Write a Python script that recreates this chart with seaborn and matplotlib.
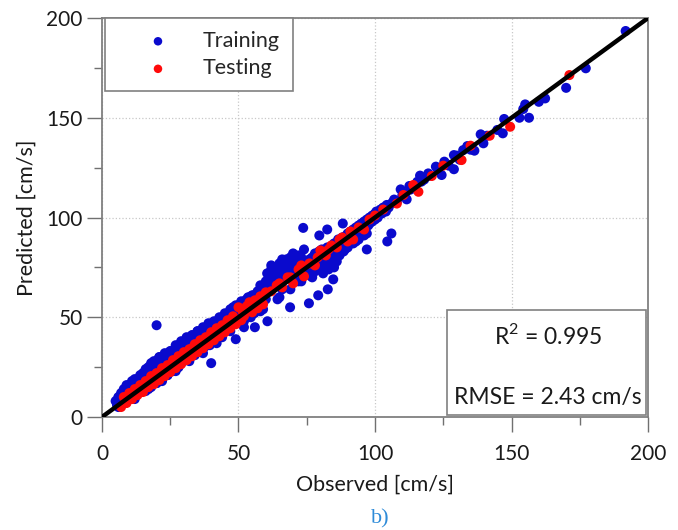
import matplotlib
matplotlib.use("Agg")
import matplotlib.pyplot as plt
import seaborn as sns
import pandas as pd
from matplotlib.patches import Rectangle
from matplotlib.ticker import MultipleLocator

# ---------------- data ----------------
train_obs = [
    # 5-15
    5, 5.5, 6, 6.5, 7, 7, 7.5, 8, 8, 8.5,
    9, 9, 9.5, 10, 10, 10.5, 11, 11, 11.5, 12,
    12, 12.5, 13, 13, 13.5, 14, 14, 14.5, 15, 15,
    6, 8, 10, 12, 14, 9, 11, 13, 7, 15.5,
    # 15-30
    16, 16, 16.5, 17, 17, 17.5, 18, 18, 18.5, 19,
    19, 19.5, 20, 20, 20.5, 21, 21, 21.5, 22, 22,
    22.5, 23, 23, 23.5, 24, 24, 24.5, 25, 25, 25.5,
    26, 26, 26.5, 27, 27, 27.5, 28, 28, 28.5, 29,
    29, 29.5, 30, 30, 18, 20, 22, 24, 26, 28,
    # 30-45
    30.5, 31, 31, 31.5, 32, 32, 32.5, 33, 33, 33.5,
    34, 34, 34.5, 35, 35, 35.5, 36, 36, 36.5, 37,
    37, 37.5, 38, 38, 38.5, 39, 39, 39.5, 40, 40,
    40.5, 41, 41, 41.5, 42, 42, 42.5, 43, 43, 43.5,
    44, 44, 44.5, 45, 45,
    # 45-60
    45.5, 46, 46, 46.5, 47, 47, 47.5, 48, 48, 48.5,
    49, 49, 49.5, 50, 50, 50.5, 51, 51, 51.5, 52,
    52, 52.5, 53, 53, 53.5, 54, 54, 54.5, 55, 55,
    55.5, 56, 56, 56.5, 57, 57, 57.5, 58, 58, 58.5,
    59, 59, 59.5, 60, 60, 60.6, 49, 52, 55.8, 58,
    # 60-75
    60.5, 61, 61, 61.5, 62, 62, 62.5, 63, 63, 63.5,
    64, 64, 64.5, 65, 65, 65.5, 66, 66, 66.5, 67,
    67, 67.5, 68, 68, 68.5, 69, 69, 69.5, 70, 70,
    70.5, 71, 71, 71.5, 72, 72, 72.5, 73, 73, 73.5,
    74, 74, 74.5, 75, 75, 64.3, 68.9, 61, 66, 70,
    # 75-90
    75.5, 76, 76, 76.5, 77, 77, 77.5, 78, 78, 78.5,
    79, 79, 79.5, 80, 80, 80.5, 81, 81, 81.5, 82,
    82, 82.5, 83, 83, 83.5, 84, 84, 84.5, 85, 85,
    85.5, 86, 86, 86.5, 87, 87, 87.5, 88, 88, 88.5,
    89, 89, 89.5, 90, 90, 79.6, 82.5, 88.2, 75.8, 79.2,
    82.7, 84.7, 83, 85, 81,
    # 90-100
    90.5, 91, 91, 91.5, 92, 92, 92.5, 93, 93, 93.5,
    94, 94, 94.5, 95, 95, 95.5, 96, 96, 96.5, 97,
    97, 97.5, 98, 98, 98.5, 99, 99, 99.5, 100, 100,
    97, 104.5, 106, 91, 95,
    # 100-200
    100.5, 101, 102, 102.5, 103, 104, 104.3, 105, 106, 106.7,
    107, 108, 109.4, 110, 111, 111.6, 112.6, 113, 115.5, 116.5,
    117, 118, 119.5, 120, 122.3, 123, 124.4, 125.4, 126, 128.9,
    128.9, 130, 132.3, 133.8, 135, 136.4, 138.7, 139.7, 141, 144.8,
    146.8, 147.3, 152.9, 154.3, 155, 156.4, 160, 162.3, 170, 177.2,
    191.8, 127, 131,
    # wider band
    14, 16, 18, 19, 21, 23, 25, 27, 29, 31,
    33, 35, 37, 39, 41, 43, 45, 47, 49, 51,
    53, 55, 57, 59, 17, 22, 27, 32, 37, 42,
    47, 52, 62, 66, 70, 74, 78, 82, 86, 90,
    94, 65, 69, 73, 77, 81, 85, 89, 93, 97,
    10, 12, 8, 6, 24, 34, 44, 54, 63, 67,
    15, 17, 19, 21, 23, 25, 27, 29, 31, 33,
    35, 37, 39, 41, 43, 46, 48, 50, 53, 56,
    12, 16, 20, 24, 28, 32, 36, 40, 58, 60,
    62, 64, 66, 68, 70, 72, 76, 80, 84, 88,
    92, 96,
    # outliers
    20, 73.7,
]
train_pred = [
    # 5-15
    8, 6, 10, 7, 9, 12, 8, 11, 14, 9,
    13, 10, 15, 12, 16, 11, 14, 18, 13, 15,
    19, 14, 17, 12, 18, 16, 20, 15, 18, 21,
    5, 7, 9, 11, 13, 16, 12, 15, 6, 17,
    # 15-30
    19, 22, 17, 21, 24, 18, 22, 26, 20, 23,
    27, 21, 24, 28, 22, 25, 29, 23, 27, 24,
    30, 26, 22, 29, 27, 31, 25, 28, 32, 26,
    30, 24, 33, 29, 26, 31, 34, 28, 30, 33,
    27, 31, 35, 29, 15, 17, 20, 21, 23, 25,
    # 30-45
    34, 31, 36, 33, 35, 29, 37, 32, 38, 34,
    36, 31, 39, 35, 40, 33, 38, 34, 42, 36,
    40, 35, 41, 37, 43, 39, 44, 36, 42, 27,
    45, 40, 38, 46, 43, 39, 44, 41, 47, 42,
    45, 40, 48, 44, 49,
    # 45-60
    47, 50, 45, 52, 49, 53, 46, 51, 55, 48,
    52, 39, 54, 50, 56, 53, 49, 57, 52, 55,
    58, 51, 54, 56, 60, 53, 57, 50, 58, 55,
    61, 54, 45, 59, 56, 62, 55, 58, 63, 57,
    60, 54, 62, 59, 64, 48, 49, 45, 52, 53,
    # 60-75
    72, 63, 68, 66, 70, 74, 65, 69, 73, 71,
    67, 75, 70, 72, 77, 68, 74, 78, 71, 73,
    76, 79, 70, 75, 77, 72, 80, 74, 76, 73,
    78, 70, 75, 77, 72, 68, 76, 74, 80, 71,
    75, 78, 73, 77, 74, 59, 55, 68, 64, 71,
    # 75-90
    77, 74, 79, 76, 73, 80, 78, 75, 82, 77,
    80, 74, 83, 78, 76, 84, 79, 75, 82, 80,
    77, 85, 81, 76, 84, 79, 82, 78, 87, 83,
    80, 86, 78, 89, 84, 81, 88, 86, 90, 83,
    89, 85, 91, 87, 92, 91, 94, 97, 57, 61,
    64, 69, 74, 75, 72,
    # 90-100
    92, 89, 93, 91, 94, 90, 92, 95, 91, 94,
    96, 92, 95, 97, 93, 96, 98, 94, 97, 99,
    84, 96, 100, 97, 99, 101, 98, 100, 102, 99,
    96, 88, 92, 88, 92,
    # 100-200
    103, 100, 104, 102, 105, 103, 106.3, 105, 107, 107.9,
    109, 108, 114.1, 111, 112, 109.1, 115.8, 114, 117.9, 121,
    118, 119, 122.1, 121, 125.5, 124, 121.3, 128, 127, 131.3,
    124.2, 131, 133.8, 135.8, 134, 133.5, 141.7, 137.2, 141, 143.9,
    142.2, 149.4, 150, 154.4, 156.7, 150, 158, 159.7, 165, 174.8,
    193.5, 126, 129,
    # wider band
    21, 24, 27, 28, 30, 31, 33, 35, 37, 39,
    41, 43, 45, 47, 48, 50, 52, 54, 56, 58,
    59, 61, 63, 64, 14, 18, 23, 28, 32, 37,
    43, 48, 76, 79, 82, 84, 73, 77, 81, 85,
    89, 60, 64, 68, 70, 74, 79, 84, 88, 92,
    16, 18, 13, 9, 30, 40, 50, 60, 70, 74,
    22, 25, 27, 30, 32, 33, 36, 38, 40, 41,
    43, 44, 46, 47, 49, 51, 53, 55, 58, 61,
    9, 13, 17, 21, 25, 30, 34, 38, 66, 68,
    71, 73, 75, 77, 79, 81, 71, 75, 79, 83,
    87, 91,
    # outliers
    46, 94.8,
]

test_obs = [
    7, 8, 9, 10, 11, 12, 13, 14, 15, 16,
    17, 18, 19, 20, 21, 22, 23, 24, 25, 26,
    27, 28, 29, 30, 31, 32, 33, 34, 35, 36,
    37, 38, 39, 40, 41, 42, 43, 44, 45, 46,
    47, 48, 49, 50, 51, 52, 53, 54, 55, 56,
    57, 58, 59, 60, 62, 64, 66, 68, 70, 72,
    74, 76, 78, 80, 82, 84, 86, 88, 90, 92,
    94, 96, 98, 100, 9.5, 13.5, 17.5, 24.5, 28.5, 33.5,
    38.5, 51.5, 55.5, 65, 69, 73, 79, 83, 87, 91,
    114, 115.9, 110.4, 120.8, 131.7, 149.5, 171.2, 125, 103, 108,
    135, 142,
]
test_pred = [
    5, 10, 7, 12, 9, 14, 11, 16, 12.5, 18,
    15, 20.5, 16.5, 22, 18.5, 24.5, 20.5, 26, 22.5, 28.5,
    24.5, 30.5, 26.5, 32.5, 28.5, 34, 30.5, 36.5, 32.5, 38.5,
    34.5, 40, 36.5, 42.5, 38.5, 44.5, 40.5, 46, 42.5, 48.5,
    44.5, 50.5, 46.5, 55, 48.5, 50.5, 55.5, 57.5, 52.5, 58.5,
    54.5, 60.5, 56.5, 62.5, 63, 66, 65, 70, 67, 74,
    70.5, 77, 76, 83.5, 81, 86, 85, 90, 88, 89,
    95, 94, 99, 101, 10, 14.5, 18.5, 24, 30, 35,
    38, 53, 57, 67, 70, 76, 80, 84, 89, 93,
    116.3, 112.9, 111.3, 120.8, 128.8, 145.5, 171.4, 126, 104, 107,
    136, 141,
]

line_x = [0, 200]
line_y = [0, 200]

axis_ticks = [0, 50, 100, 150, 200]
legend_labels = ["Training", "Testing"]
r2_text = "R$^2$ = 0.995"
rmse_text = "RMSE = 2.43 cm/s"

# ---------------- figure ----------------
sns.set_theme(style="white")
plt.rcParams["font.family"] = ["Lato", "DejaVu Sans"]
plt.rcParams["mathtext.fontset"] = "custom"
plt.rcParams["mathtext.rm"] = "Lato"

train_df = pd.DataFrame({"Observed": train_obs, "Predicted": train_pred})
test_df = pd.DataFrame({"Observed": test_obs, "Predicted": test_pred})

fig = plt.figure(figsize=(6.78, 5.30), dpi=100)
ax = fig.add_axes([0.1504, 0.2132, 0.8054, 0.7528])

blue = "#0A0ACD"
red = "#FF0A0A"
sns.scatterplot(data=train_df, x="Observed", y="Predicted", ax=ax, color=blue,
                s=52, edgecolor="none", linewidth=0, label=legend_labels[0], zorder=2)
sns.scatterplot(data=test_df, x="Observed", y="Predicted", ax=ax, color=red,
                s=52, edgecolor="none", linewidth=0, label=legend_labels[1], zorder=3)
sns.lineplot(x=line_x, y=line_y, ax=ax, color="black", linewidth=3.2, zorder=4)

ax.set_xlim(0, 200)
ax.set_ylim(0, 200)
ax.set_xticks(axis_ticks)
ax.set_yticks(axis_ticks)
ax.xaxis.set_minor_locator(MultipleLocator(25))
ax.yaxis.set_minor_locator(MultipleLocator(25))
ax.grid(True, which="major", linestyle=":", color="#C8C8C8", linewidth=0.9)
ax.tick_params(axis="both", which="major", direction="out", length=10.8, width=1.0,
               color="#707070", labelsize=15, labelcolor="#1A1A1A",
               bottom=True, left=True)
ax.tick_params(axis="both", which="minor", direction="out", length=5.8, width=1.0,
               color="#707070", bottom=True, left=True)
ax.tick_params(axis="x", which="major", pad=8.5)
ax.tick_params(axis="y", which="major", pad=3)
for sp in ax.spines.values():
    sp.set_color("#808080")
    sp.set_linewidth(1.3)

ax.set_xlabel("Observed [cm/s]", fontsize=15.5, color="#1A1A1A", labelpad=8)
ax.set_ylabel("Predicted [cm/s]", fontsize=15.5, color="#1A1A1A", labelpad=7)

handles, labels = ax.get_legend_handles_labels()
leg = ax.legend(handles[:2], labels[:2], loc="upper left", bbox_to_anchor=(0.005, 1.0),
                borderaxespad=0, fontsize=15.5, frameon=True, fancybox=False,
                handletextpad=0.2, borderpad=0.6, labelspacing=0.35,
                handlelength=3.75, markerscale=0.85)
leg.get_frame().set_edgecolor("#808080")
leg.get_frame().set_linewidth(1.2)
leg.get_frame().set_alpha(1)

ax.add_patch(Rectangle((0.632, 0.005), 0.365, 0.263, transform=ax.transAxes,
                       facecolor="white", edgecolor="#808080", linewidth=1.2, zorder=5))
ax.text(0.817, 0.205, r2_text, transform=ax.transAxes, ha="center", va="center",
        fontsize=16.5, color="#1A1A1A", zorder=6)
ax.text(0.817, 0.050, rmse_text, transform=ax.transAxes, ha="center", va="center",
        fontsize=16.5, color="#1A1A1A", zorder=6)

fig.text(380 / 678, 1 - 519 / 530, "b)", ha="center", va="center", fontsize=16,
         color="#2E8BD8", family=["Liberation Serif", "DejaVu Serif"])

fig.savefig("out.png", dpi=100)
